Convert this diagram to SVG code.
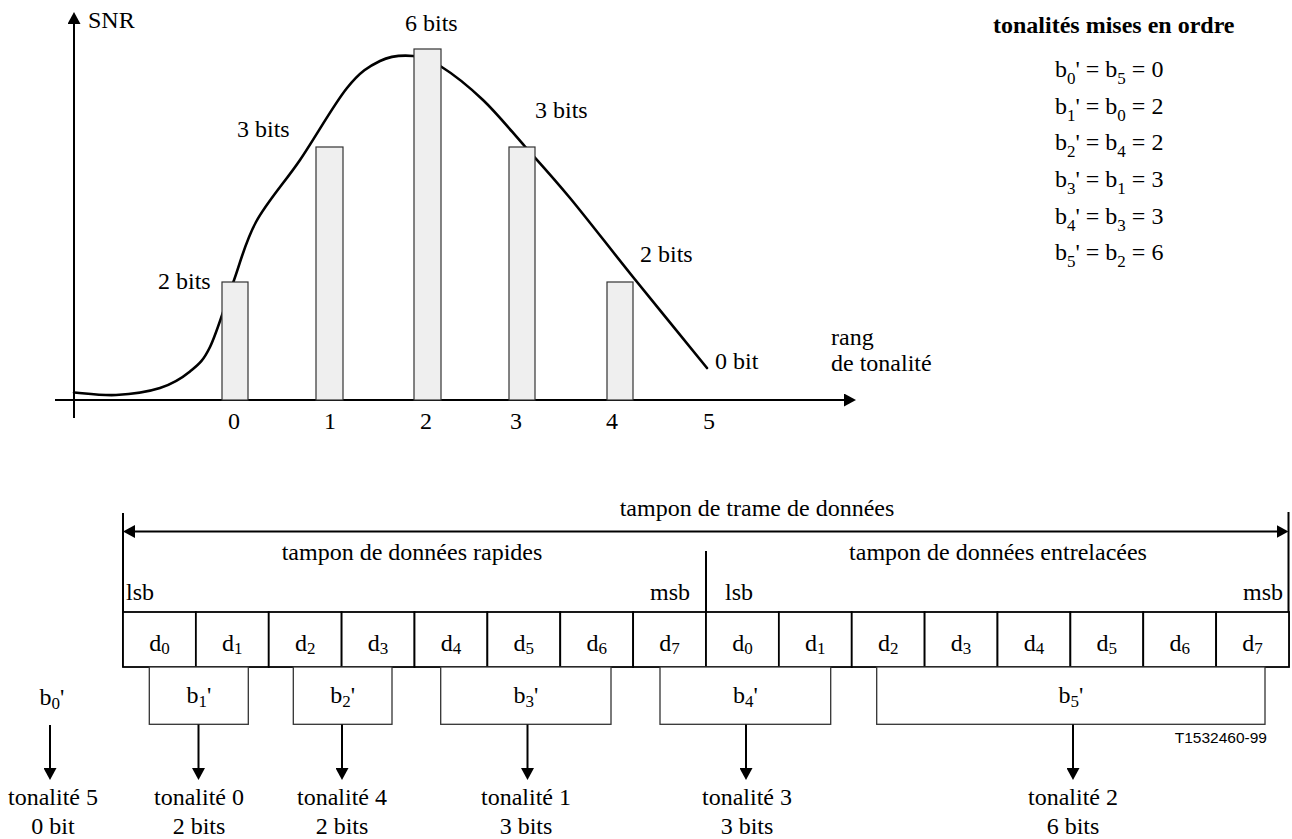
<svg xmlns="http://www.w3.org/2000/svg" width="1292" height="839" viewBox="0 0 1292 839">
<defs>
<marker id="ah" markerUnits="userSpaceOnUse" viewBox="0 0 12 13" refX="6" refY="6.5" markerWidth="12" markerHeight="13" orient="auto-start-reverse"><path d="M0,0 L12,6.5 L0,13 z" fill="#000"/></marker>
</defs>
<style>
text{font-family:"Liberation Serif","Times New Roman",serif;font-size:24px;fill:#000}
.bold{font-weight:bold}
.s{font-size:17px}
.mid{text-anchor:middle}
.bar{fill:#efefef;stroke:#333;stroke-width:1.2}
.ax{stroke:#000;stroke-width:2;fill:none}
.curve{stroke:#000;stroke-width:2.6;fill:none;stroke-linejoin:round;stroke-linecap:round}
.cell{fill:#fff;stroke:#000;stroke-width:1.8}
.box{fill:#fff;stroke:#333;stroke-width:1.3}
.conn{stroke:#000;stroke-width:2;fill:none}
.code{font-family:"Liberation Sans",Arial,sans-serif;font-size:15.5px;text-anchor:end}
</style>
<rect width="1292" height="839" fill="#fff"/>

<g id="chart">
<line class="ax" x1="74" y1="418" x2="74" y2="18" marker-end="url(#ah)"/>
<line class="ax" x1="55" y1="400" x2="850" y2="400" marker-end="url(#ah)"/>
<path class="curve" d="M74,392.5 C81,392.9 101.7,395.75 116,395 C130.3,394.25 147.7,391.9 160,388 C172.3,384.1 181.7,378.3 190,371.5 C198.3,364.7 202.8,361.75 210,347 C217.2,332.25 225.3,303.8 233,283 C240.7,262.2 244.8,242.5 256,222 C267.2,201.5 284.8,182.3 300,160 C315.2,137.7 333.7,104.5 347,88 C360.3,71.5 369,66.3 380,61 C391,55.7 402.8,55.1 413,56 C423.2,56.9 429.3,59.2 441,66.5 C452.7,73.8 469,86.7 483,100 C497,113.3 510.5,130.2 525,146.5 C539.5,162.8 552,176.25 570,198 C588,219.75 610.2,248.7 633,277 C655.8,305.3 694.7,352.8 707,368"/>
<rect class="bar" x="222" y="282" width="26" height="118"/>
<rect class="bar" x="316" y="147" width="27" height="253"/>
<rect class="bar" x="414" y="49" width="27" height="351"/>
<rect class="bar" x="509" y="147" width="26" height="253"/>
<rect class="bar" x="607" y="282" width="26" height="118"/>
<text x="88" y="28">SNR</text>
<text x="405" y="31">6 bits</text>
<text x="237" y="137">3 bits</text>
<text x="535" y="118">3 bits</text>
<text x="158" y="289">2 bits</text>
<text x="640" y="262">2 bits</text>
<text x="715" y="369">0 bit</text>
<text x="831" y="345">rang</text>
<text x="831" y="371">de tonalité</text>
<text class="mid" x="234" y="429">0</text>
<text class="mid" x="330" y="429">1</text>
<text class="mid" x="426" y="429">2</text>
<text class="mid" x="516" y="429">3</text>
<text class="mid" x="612" y="429">4</text>
<text class="mid" x="709" y="429">5</text>
</g>

<g id="legend">
<text class="bold" x="993" y="33">tonalités mises en ordre</text>
<text x="1055" y="77">b<tspan class="s" dy="7">0</tspan><tspan dy="-7">' = b</tspan><tspan class="s" dy="7">5</tspan><tspan dy="-7"> = 0</tspan></text>
<text x="1055" y="114">b<tspan class="s" dy="7">1</tspan><tspan dy="-7">' = b</tspan><tspan class="s" dy="7">0</tspan><tspan dy="-7"> = 2</tspan></text>
<text x="1055" y="150">b<tspan class="s" dy="7">2</tspan><tspan dy="-7">' = b</tspan><tspan class="s" dy="7">4</tspan><tspan dy="-7"> = 2</tspan></text>
<text x="1055" y="187">b<tspan class="s" dy="7">3</tspan><tspan dy="-7">' = b</tspan><tspan class="s" dy="7">1</tspan><tspan dy="-7"> = 3</tspan></text>
<text x="1055" y="224">b<tspan class="s" dy="7">4</tspan><tspan dy="-7">' = b</tspan><tspan class="s" dy="7">3</tspan><tspan dy="-7"> = 3</tspan></text>
<text x="1055" y="260">b<tspan class="s" dy="7">5</tspan><tspan dy="-7">' = b</tspan><tspan class="s" dy="7">2</tspan><tspan dy="-7"> = 6</tspan></text>
</g>

<g id="frame-buffer">
<line class="conn" x1="123" y1="513" x2="123" y2="667"/>
<line class="conn" x1="1288.5" y1="512" x2="1288.5" y2="667"/>
<line class="conn" x1="706" y1="551" x2="706" y2="667"/>
<text class="mid" x="757" y="516">tampon de trame de données</text>
<text class="mid" x="412" y="560">tampon de données rapides</text>
<text class="mid" x="998" y="560">tampon de données entrelacées</text>
<text x="126" y="600">lsb</text>
<text x="650" y="600">msb</text>
<text x="725" y="600">lsb</text>
<text x="1243" y="600">msb</text>
</g>

<g id="cells">
<g id="fast-d0"><rect class="cell" x="123" y="612" width="72.875" height="55"/><text class="mid" x="159.4" y="651">d<tspan class="s" dy="3">0</tspan></text></g>
<g id="fast-d1"><rect class="cell" x="195.875" y="612" width="72.875" height="55"/><text class="mid" x="232.3" y="651">d<tspan class="s" dy="3">1</tspan></text></g>
<g id="fast-d2"><rect class="cell" x="268.75" y="612" width="72.875" height="55"/><text class="mid" x="305.2" y="651">d<tspan class="s" dy="3">2</tspan></text></g>
<g id="fast-d3"><rect class="cell" x="341.625" y="612" width="72.875" height="55"/><text class="mid" x="378.1" y="651">d<tspan class="s" dy="3">3</tspan></text></g>
<g id="fast-d4"><rect class="cell" x="414.5" y="612" width="72.875" height="55"/><text class="mid" x="450.9" y="651">d<tspan class="s" dy="3">4</tspan></text></g>
<g id="fast-d5"><rect class="cell" x="487.375" y="612" width="72.875" height="55"/><text class="mid" x="523.8" y="651">d<tspan class="s" dy="3">5</tspan></text></g>
<g id="fast-d6"><rect class="cell" x="560.25" y="612" width="72.875" height="55"/><text class="mid" x="596.7" y="651">d<tspan class="s" dy="3">6</tspan></text></g>
<g id="fast-d7"><rect class="cell" x="633.125" y="612" width="72.875" height="55"/><text class="mid" x="669.6" y="651">d<tspan class="s" dy="3">7</tspan></text></g>
<g id="int-d0"><rect class="cell" x="706" y="612" width="72.875" height="55"/><text class="mid" x="742.4" y="651">d<tspan class="s" dy="3">0</tspan></text></g>
<g id="int-d1"><rect class="cell" x="778.875" y="612" width="72.875" height="55"/><text class="mid" x="815.3" y="651">d<tspan class="s" dy="3">1</tspan></text></g>
<g id="int-d2"><rect class="cell" x="851.75" y="612" width="72.875" height="55"/><text class="mid" x="888.2" y="651">d<tspan class="s" dy="3">2</tspan></text></g>
<g id="int-d3"><rect class="cell" x="924.625" y="612" width="72.875" height="55"/><text class="mid" x="961.1" y="651">d<tspan class="s" dy="3">3</tspan></text></g>
<g id="int-d4"><rect class="cell" x="997.5" y="612" width="72.875" height="55"/><text class="mid" x="1033.9" y="651">d<tspan class="s" dy="3">4</tspan></text></g>
<g id="int-d5"><rect class="cell" x="1070.375" y="612" width="72.875" height="55"/><text class="mid" x="1106.8" y="651">d<tspan class="s" dy="3">5</tspan></text></g>
<g id="int-d6"><rect class="cell" x="1143.25" y="612" width="72.875" height="55"/><text class="mid" x="1179.7" y="651">d<tspan class="s" dy="3">6</tspan></text></g>
<g id="int-d7"><rect class="cell" x="1216.125" y="612" width="72.875" height="55"/><text class="mid" x="1252.6" y="651">d<tspan class="s" dy="3">7</tspan></text></g>
</g>

<g id="b0p"><text class="mid" x="52" y="705">b<tspan class="s" dy="4">0</tspan><tspan dy="-4">'</tspan></text></g>
<g id="b1p"><rect class="box" x="149.3" y="667" width="99" height="57.3"/><text class="mid" x="198.8" y="703">b<tspan class="s" dy="4">1</tspan><tspan dy="-4">'</tspan></text></g>
<g id="b2p"><rect class="box" x="293.3" y="667" width="98.7" height="57.3"/><text class="mid" x="342.7" y="703">b<tspan class="s" dy="4">2</tspan><tspan dy="-4">'</tspan></text></g>
<g id="b3p"><rect class="box" x="440.7" y="667" width="170.3" height="57.3"/><text class="mid" x="525.9" y="703">b<tspan class="s" dy="4">3</tspan><tspan dy="-4">'</tspan></text></g>
<g id="b4p"><rect class="box" x="660" y="667" width="170.7" height="57.3"/><text class="mid" x="745.4" y="703">b<tspan class="s" dy="4">4</tspan><tspan dy="-4">'</tspan></text></g>
<g id="b5p"><rect class="box" x="876.7" y="667" width="388.3" height="57.3"/><text class="mid" x="1070.9" y="703">b<tspan class="s" dy="4">5</tspan><tspan dy="-4">'</tspan></text></g>

<g id="connectors">
<line class="conn" x1="129" y1="531.5" x2="1282.5" y2="531.5" marker-start="url(#ah)" marker-end="url(#ah)"/>
<line class="conn" x1="50" y1="725" x2="50" y2="774" marker-end="url(#ah)"/>
<line class="conn" x1="198.5" y1="724.5" x2="198.5" y2="774" marker-end="url(#ah)"/>
<line class="conn" x1="342" y1="724.5" x2="342" y2="774" marker-end="url(#ah)"/>
<line class="conn" x1="527.5" y1="724.5" x2="527.5" y2="774" marker-end="url(#ah)"/>
<line class="conn" x1="746" y1="724.5" x2="746" y2="774" marker-end="url(#ah)"/>
<line class="conn" x1="1073" y1="724.5" x2="1073" y2="774" marker-end="url(#ah)"/>
</g>

<g id="tones">
<g id="tone5"><text class="mid" x="53" y="805">tonalité 5</text><text class="mid" x="53" y="834">0 bit</text></g>
<g id="tone0"><text class="mid" x="199" y="805">tonalité 0</text><text class="mid" x="199" y="834">2 bits</text></g>
<g id="tone4"><text class="mid" x="342" y="805">tonalité 4</text><text class="mid" x="342" y="834">2 bits</text></g>
<g id="tone1"><text class="mid" x="526" y="805">tonalité 1</text><text class="mid" x="526" y="834">3 bits</text></g>
<g id="tone3"><text class="mid" x="747" y="805">tonalité 3</text><text class="mid" x="747" y="834">3 bits</text></g>
<g id="tone2"><text class="mid" x="1073" y="805">tonalité 2</text><text class="mid" x="1073" y="834">6 bits</text></g>
</g>

<text class="code" x="1267" y="743">T1532460-99</text>
</svg>
